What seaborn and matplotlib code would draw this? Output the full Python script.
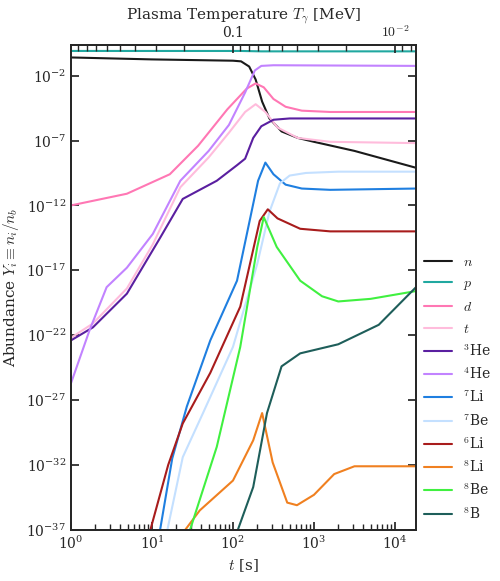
import numpy as np
import matplotlib
matplotlib.use("Agg")
import matplotlib.pyplot as plt
import matplotlib.ticker as mt
import seaborn as sns
import pandas as pd

sns.set_theme(style="ticks")
plt.rcParams['font.family'] = ['DejaVu Serif']
plt.rcParams['mathtext.fontset'] = 'cm'

# log10 t, log10 Y
n_lt = [0, 1, 2, 2.1, 2.2, 2.28, 2.36, 2.45, 2.6, 2.8, 3.0, 3.5, 4.26]
n_ly = [-0.6, -0.75, -0.85, -0.9, -1.3, -2.3, -4.0, -5.3, -6.3, -6.8, -7.1, -7.8, -9.1]
p_lt = [0, 2.1, 2.35, 4.26]
p_ly = [-0.1, -0.1, -0.13, -0.13]
d_lt = [0, 0.69, 1.22, 1.57, 1.93, 2.17, 2.28, 2.38, 2.5, 2.65, 2.85, 3.2, 4.26]
d_ly = [-12.0, -11.1, -9.6, -7.4, -4.6, -3.0, -2.6, -2.9, -3.8, -4.4, -4.7, -4.8, -4.8]
t_lt = [0, 0.27, 0.69, 1.01, 1.35, 1.7, 1.95, 2.15, 2.28, 2.4, 2.55, 2.8, 3.2, 4.26]
t_ly = [-22.2, -21.1, -18.4, -15.0, -10.6, -8.3, -6.4, -4.8, -4.2, -4.8, -6.0, -6.8, -7.1, -7.2]
he3_lt = [0, 0.27, 0.69, 1.1, 1.38, 1.8, 2.05, 2.15, 2.25, 2.35, 2.5, 2.7, 4.26]
he3_ly = [-22.4, -21.4, -18.8, -14.5, -11.5, -10.1, -8.9, -8.4, -6.8, -5.9, -5.4, -5.3, -5.3]
he4_lt = [0, 0.23, 0.44, 0.69, 1.01, 1.35, 1.7, 1.95, 2.15, 2.27, 2.35, 2.5, 4.26]
he4_ly = [-25.7, -21.6, -18.3, -16.8, -14.2, -10.1, -7.8, -5.8, -3.3, -1.6, -1.25, -1.2, -1.25]
li7_lt = [1.1, 1.25, 1.43, 1.72, 2.05, 2.31, 2.4, 2.5, 2.65, 2.85, 3.2, 4.26]
li7_ly = [-37, -31.5, -27.5, -22.4, -17.8, -10.1, -8.7, -9.6, -10.4, -10.7, -10.8, -10.7]
be7_lt = [1.19, 1.38, 1.63, 2.0, 2.3, 2.45, 2.58, 2.7, 2.9, 3.3, 4.26]
be7_ly = [-37, -31.4, -28.0, -22.9, -16.5, -12.5, -10.3, -9.7, -9.5, -9.4, -9.4]
li6_lt = [0.98, 1.2, 1.38, 1.72, 2.09, 2.33, 2.43, 2.55, 2.83, 3.2, 4.26]
li6_ly = [-37, -32.0, -28.8, -24.9, -19.8, -13.2, -12.3, -13.0, -13.8, -14.0, -14.0]
li8_lt = [1.41, 1.59, 2.0, 2.25, 2.36, 2.49, 2.67, 2.79, 3.0, 3.25, 3.5, 4.26]
li8_ly = [-37, -35.5, -33.2, -30.1, -28.0, -31.8, -34.9, -35.1, -34.3, -32.7, -32.1, -32.1]
be8_lt = [1.47, 1.8, 2.09, 2.3, 2.38, 2.54, 2.83, 3.1, 3.3, 3.7, 4.26]
be8_ly = [-37, -30.6, -22.9, -15.2, -12.9, -15.2, -17.8, -19.0, -19.4, -19.2, -18.6]
b8_lt = [2.06, 2.25, 2.42, 2.6, 2.83, 3.3, 3.8, 4.26]
b8_ly = [-37, -33.7, -28.0, -24.4, -23.4, -22.7, -21.2, -18.3]

series = [
    ("$n$", n_lt, n_ly, "#1a1a1a"),
    ("$p$", p_lt, p_ly, "#20a8a0"),
    ("$d$", d_lt, d_ly, "#ff77b4"),
    ("$t$", t_lt, t_ly, "#ffbcdc"),
    ("$^{3}$He", he3_lt, he3_ly, "#5a1fa0"),
    ("$^{4}$He", he4_lt, he4_ly, "#c283ff"),
    ("$^{7}$Li", li7_lt, li7_ly, "#1f7fe0"),
    ("$^{7}$Be", be7_lt, be7_ly, "#c4e0ff"),
    ("$^{6}$Li", li6_lt, li6_ly, "#a81c1c"),
    ("$^{8}$Li", li8_lt, li8_ly, "#f08020"),
    ("$^{8}$Be", be8_lt, be8_ly, "#40f040"),
    ("$^{8}$B", b8_lt, b8_ly, "#1e5e5a"),
]

fig = plt.figure(figsize=(5.0, 5.81), dpi=100)
ax = fig.add_axes([0.142, 0.088, 0.69, 0.835])
for name, lt, ly, c in series:
    df = pd.DataFrame({"t": 10**np.array(lt, float), "Y": 10**np.array(ly, float)})
    sns.lineplot(data=df, x="t", y="Y", ax=ax, color=c, lw=1.5, label=name, sort=False)

tmin, tmax = 1.0, 10**4.26
ax.set_xscale("log"); ax.set_yscale("log")
ax.set_xlim(tmin, tmax); ax.set_ylim(1e-37, 2.4)
ax.yaxis.set_major_locator(mt.FixedLocator([10.0**k for k in (-37, -32, -27, -22, -17, -12, -7, -2)]))
ax.yaxis.set_minor_locator(mt.NullLocator())
ax.tick_params(which="both", direction="in", top=False, right=True, labelsize=10)
ax.tick_params(which="major", length=6)
ax.set_xlabel(r"$t$ [s]", fontsize=11)
ax.set_ylabel(r"Abundance $Y_i \equiv n_i/n_b$", fontsize=11)
for s in ax.spines.values():
    s.set_linewidth(1.3)

top = ax.twiny()
top.set_xscale("log")
top.set_xlim(1/np.sqrt(tmin), 1/np.sqrt(tmax))
top.xaxis.set_major_locator(mt.FixedLocator([0.1, 0.01]))
top.xaxis.set_major_formatter(mt.FixedFormatter(["0.1", r"$10^{-2}$"]))
top.xaxis.set_minor_locator(mt.LogLocator(subs=np.arange(2, 10)))
top.xaxis.set_minor_formatter(mt.NullFormatter())
top.tick_params(which="both", direction="in", labelsize=10)
top.tick_params(which="major", length=6)
top.set_xlabel(r"Plasma Temperature $T_\gamma$ [MeV]", fontsize=11)

ax.legend(loc="lower left", bbox_to_anchor=(1.0, 0.0), frameon=False, fontsize=10,
          handlelength=2.0, labelspacing=0.55, borderaxespad=0.2)
fig.savefig("out.png", dpi=100)
